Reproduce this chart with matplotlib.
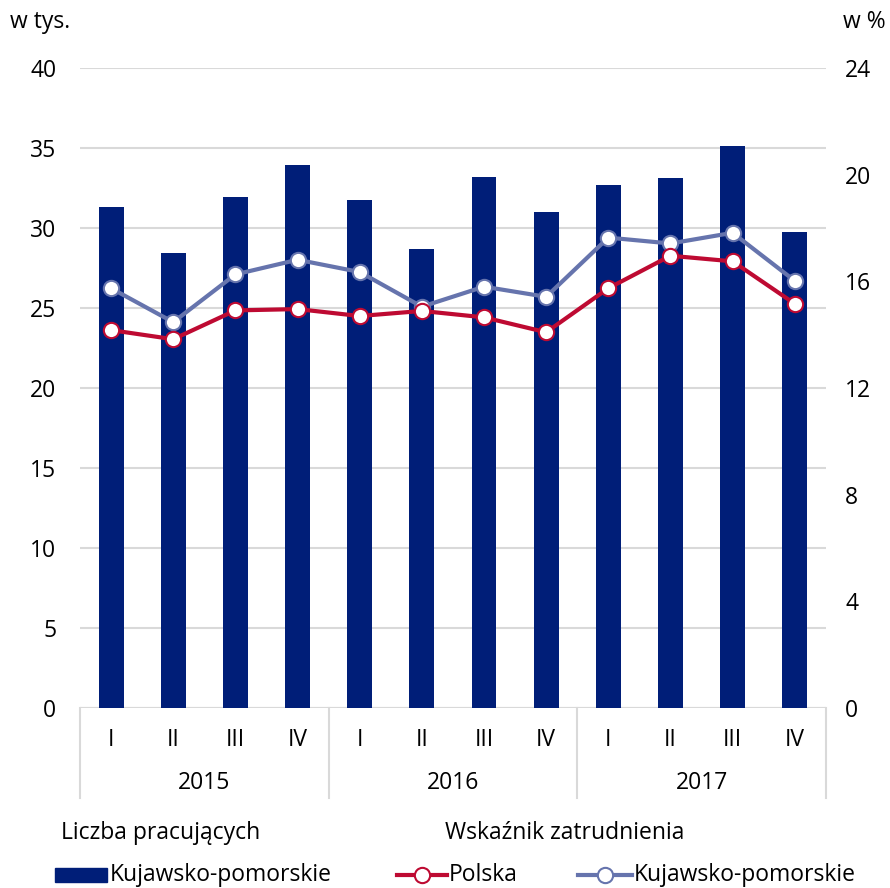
import matplotlib.pyplot as plt
from matplotlib.lines import Line2D
from matplotlib.patches import Rectangle

plt.rcParams['font.family'] = ['Open Sans', 'DejaVu Sans']

# data
years = ["2015", "2016", "2017"]
quarters = ["I", "II", "III", "IV"]
employed = [31.3, 28.45, 31.95, 33.95, 31.75, 28.7, 33.2, 31.0, 32.7, 33.1, 35.1, 29.75]
rate_poland = [14.17, 13.83, 14.91, 14.96, 14.7, 14.89, 14.65, 14.09, 15.74, 16.96, 16.75, 15.16]
rate_region = [15.74, 14.47, 16.26, 16.81, 16.35, 15.05, 15.8, 15.42, 17.64, 17.42, 17.82, 16.02]

NAVY = "#001e78"
RED = "#be0a32"
SLATE = "#6674ad"
GRID = "#d9d9d9"
FS = 16.5

fig = plt.figure(figsize=(8.9, 8.88), dpi=100)
ax = fig.add_axes([0.0899, 0.2027, 0.838, 0.7207])
ax2 = ax.twinx()

x = list(range(len(employed)))
ax.bar(x, employed, width=0.4, color=NAVY, zorder=2)
ax.set_ylim(0, 40)
ax.set_xlim(-0.5, len(x) - 0.5)
ax.set_yticks(range(0, 41, 5))
ax.yaxis.grid(True, color=GRID, linewidth=1.5, zorder=0)
ax.set_axisbelow(True)

ax2.plot(x, rate_region, color=SLATE, lw=3, marker="o", ms=11,
         mfc="white", mec=SLATE, mew=1.5, zorder=3)
ax2.plot(x, rate_poland, color=RED, lw=3, marker="o", ms=11,
         mfc="white", mec=RED, mew=1.5, zorder=4)
ax2.set_ylim(0, 24)
ax2.set_yticks(range(0, 25, 4))

for a in (ax, ax2):
    for s in a.spines.values():
        s.set_visible(False)
    a.tick_params(length=0, labelsize=FS)
ax.tick_params(axis="y", pad=17)
ax2.tick_params(axis="y", pad=14)
ax.set_xticks([])
ax.axhline(0, color=GRID, lw=1.5, zorder=1)

# category axis: quarters, years and separators
trans = ax.get_xaxis_transform()
for i in x:
    ax.text(i, -0.05, quarters[i % 4], transform=trans, ha="center", va="center", fontsize=FS)
for j, yr in enumerate(years):
    ax.text(4 * j + 1.5, -0.117, yr, transform=trans, ha="center", va="center", fontsize=FS)
for sep in (-0.5, 3.5, 7.5, 11.5):
    ax.plot([sep, sep], [0, -0.141], transform=trans, color=GRID, lw=1.5, clip_on=False)

fig.text(10 / 890, 1 - 22 / 888, "w tys.", fontsize=FS, va="center", ha="left")
fig.text(886 / 890, 1 - 22 / 888, "w %", fontsize=FS, va="center", ha="right")

# legend
ly = 1 - 875 / 888
fig.text(61 / 890, 1 - 833 / 888, "Liczba pracujących", fontsize=FS, va="center")
fig.text(445 / 890, 1 - 833 / 888, "Wskaźnik zatrudnienia", fontsize=FS, va="center")
fig.patches.append(Rectangle((55 / 890, 1 - 882 / 888), 52 / 890, 14 / 888,
                             transform=fig.transFigure, color=NAVY))
fig.text(110 / 890, ly, "Kujawsko-pomorskie", fontsize=FS, va="center")
for x0, x1, c, label in ((397, 447, RED, "Polska"), (578, 632, SLATE, "Kujawsko-pomorskie")):
    fig.lines.append(Line2D([x0 / 890, x1 / 890], [ly, ly], transform=fig.transFigure,
                            color=c, lw=3))
    fig.lines.append(Line2D([(x0 + x1) / 2 / 890], [ly], transform=fig.transFigure,
                            marker="o", ms=11, mfc="white", mec=c, mew=1.5))
    fig.text((x1 + 2) / 890, ly, label, fontsize=FS, va="center")

fig.savefig("out.png", dpi=100)
